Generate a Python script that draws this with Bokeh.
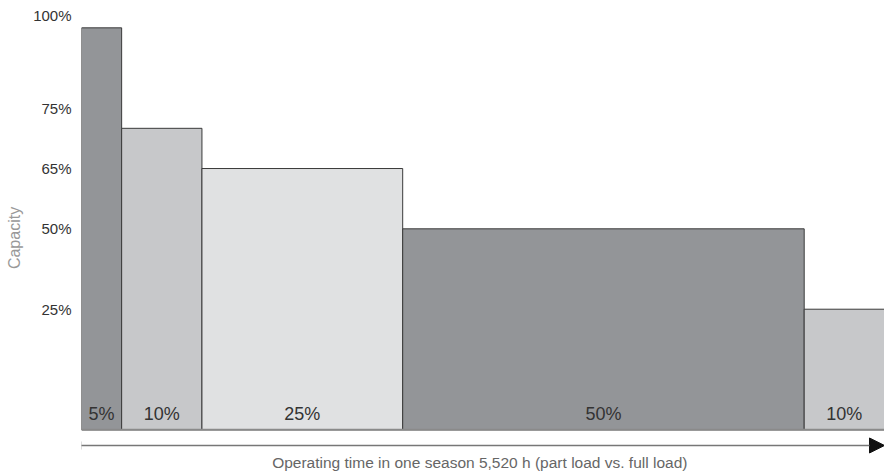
import numpy as np
from bokeh.plotting import figure
from bokeh.models import Range1d, FixedTicker, Arrow, NormalHead, Label, ColumnDataSource
from bokeh.embed import file_html
from bokeh.resources import INLINE
from bokeh.core.properties import value

# ---- data ----
shares = [5, 10, 25, 50, 10]                 # share of operating time (%)
capacity = [100, 75, 65, 50, 30]             # capacity level (%)
share_labels = ["5%", "10%", "25%", "50%", "10%"]
bar_colors = ["#939598", "#c7c8ca", "#e0e1e2", "#939598", "#c7c8ca"]
tick_positions = [103, 80, 65, 50, 30]
tick_labels = ["100%", "75%", "65%", "50%", "25%"]
x_title = "Operating time in one season 5,520 h (part load vs. full load)"
y_title = "Capacity"

FONT = "Liberation Sans"

rights = np.cumsum(shares)
lefts = rights - np.array(shares)
centers = (lefts + rights) / 2

src = ColumnDataSource(dict(left=lefts, right=rights, top=capacity,
                            color=bar_colors, center=centers,
                            label=share_labels, ly=[4.0] * len(shares)))

p = figure(width=884, height=475, output_backend="svg", toolbar_location=None,
           x_range=Range1d(0, 100), y_range=Range1d(-11.37, 106.8),
           min_border_left=81, min_border_right=0, min_border_top=0, min_border_bottom=0)
p.xaxis.visible = False
p.grid.visible = False
p.outline_line_color = None
p.background_fill_color = "white"

p.quad(left="left", right="right", bottom=0, top="top", source=src,
       fill_color="color", line_color="#3a3a3a", line_width=1)
# baseline
p.segment(x0=0, y0=0, x1=100, y1=0, line_color="#8a8a8a", line_width=2)

p.text(x="center", y="ly", text="label", source=src, text_align="center",
       text_baseline="middle", text_font=value(FONT), text_font_size="18px",
       text_color="#333333")

# time arrow
arrow_y = -3.9
p.add_layout(Arrow(end=NormalHead(size=15, fill_color="#111111", line_color="#111111"),
                   x_start=-0.15, y_start=arrow_y, x_end=100, y_end=arrow_y,
                   line_color="#777777", line_width=1.5))
p.segment(x0=-0.15, y0=arrow_y - 1.0, x1=-0.15, y1=arrow_y + 1.0,
          line_color="#222222", line_width=2)
p.add_layout(Label(x=49.6, y=-8.13, text=x_title, text_align="center",
                   text_baseline="middle", text_font=FONT, text_font_size="15.5px",
                   text_color="#666666"))

# y axis
ya = p.yaxis[0]
ya.ticker = FixedTicker(ticks=tick_positions)
ya.major_label_overrides = {t: l for t, l in zip(tick_positions, tick_labels)}
ya.axis_line_color = None
ya.major_tick_line_color = None
ya.minor_tick_line_color = None
ya.major_tick_out = 0
ya.major_tick_in = 0
ya.major_label_standoff = 10
ya.major_label_text_font = FONT
ya.major_label_text_font_size = "15px"
ya.major_label_text_color = "#333333"
ya.axis_label = y_title
ya.axis_label_text_font = FONT
ya.axis_label_text_font_size = "16px"
ya.axis_label_text_font_style = "normal"
ya.axis_label_text_color = "#999999"
ya.axis_label_standoff = 7

open("out.html", "w").write(file_html(p, INLINE))
